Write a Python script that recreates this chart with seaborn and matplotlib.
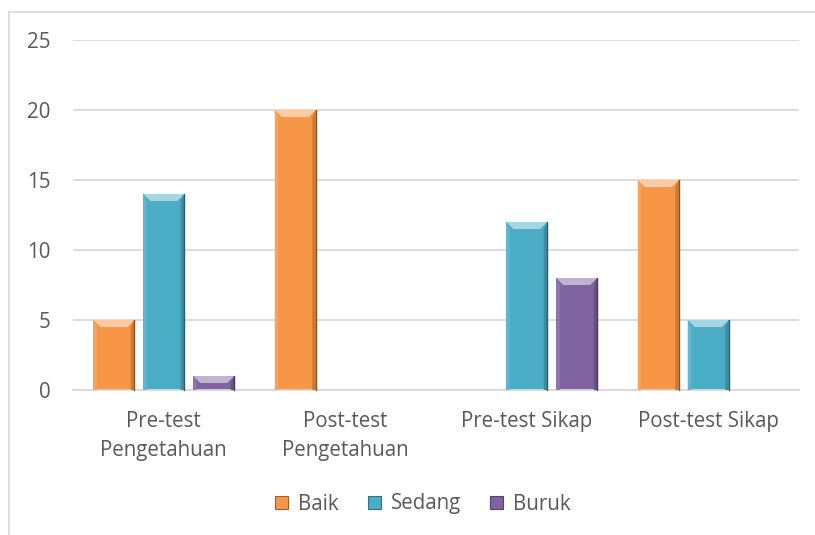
import matplotlib
matplotlib.use("Agg")
import matplotlib.pyplot as plt
import seaborn as sns
import pandas as pd
import numpy as np
from matplotlib.patches import Polygon, Patch
from matplotlib.lines import Line2D
from matplotlib.transforms import IdentityTransform
import matplotlib.colors as mcolors

categories = ["Pre-test\nPengetahuan", "Post-test\nPengetahuan", "Pre-test Sikap", "Post-test Sikap"]
series = ["Baik", "Sedang", "Buruk"]
baik = [5, 20, 0, 15]
sedang = [14, 0, 12, 5]
buruk = [1, 0, 8, 0]
yticks = [0, 5, 10, 15, 20, 25]

colors = {"Baik": "#F79646", "Sedang": "#4BACC6", "Buruk": "#8064A2"}
text_color = "#595959"
grid_color = "#D9D9D9"

rows = []
for s, vals in zip(series, [baik, sedang, buruk]):
    for c, v in zip(categories, vals):
        rows.append({"cat": c, "series": s, "value": v})
df = pd.DataFrame(rows)

sns.set_theme(style="white")
plt.rcParams["font.family"] = ["Open Sans", "DejaVu Sans"]

fig = plt.figure(figsize=(8.15, 5.35), dpi=100)
ax = fig.add_axes([73/815, 1-390/535, (799-73)/815, (390-40)/535])

sns.barplot(data=df, x="cat", y="value", hue="series", order=categories,
            hue_order=series, palette=colors, width=0.826, gap=0.18,
            saturation=1, ax=ax, legend=False, edgecolor="none")

ax.set_ylim(0, 25)
ax.set_xlim(-0.5, 3.5)
ax.set_yticks(yticks)
ax.set_yticklabels([str(t) for t in yticks])
ax.set_xlabel("")
ax.set_ylabel("")
ax.yaxis.grid(True, color=grid_color, linewidth=1.3)
ax.set_axisbelow(True)
for side in ["top", "right", "left"]:
    ax.spines[side].set_visible(False)
ax.spines["bottom"].set_color(grid_color)
ax.spines["bottom"].set_linewidth(1.3)
ax.tick_params(axis="both", length=0, labelsize=14.8, colors=text_color)
ax.tick_params(axis="y", pad=16)
ax.tick_params(axis="x", pad=15)
for lbl in ax.get_xticklabels():
    lbl.set_linespacing(1.5)


def shade(col, f):
    rgb = np.array(mcolors.to_rgb(col))
    if f > 0:
        return tuple(rgb + (1 - rgb) * f)
    return tuple(rgb * (1 + f))


def bevel(x0, y0, x1, y1, col, b=7, z=3):
    top = Polygon([(x0, y1), (x1, y1), (x1 - b, y1 - b), (x0 + b, y1 - b)],
                  closed=True, transform=IdentityTransform(),
                  facecolor=shade(col, 0.5), edgecolor="none", zorder=z)
    left = Polygon([(x0, y0), (x0, y1), (x0 + b * 0.5, y1 - b), (x0 + b * 0.5, y0)],
                   closed=True, transform=IdentityTransform(),
                   facecolor=shade(col, 0.12), edgecolor="none", zorder=z)
    right = Polygon([(x1, y0), (x1, y1), (x1 - b * 0.5, y1 - b), (x1 - b * 0.5, y0)],
                    closed=True, transform=IdentityTransform(),
                    facecolor=shade(col, -0.18), edgecolor="none", zorder=z)
    edge = Line2D([x1, x1], [y0, y1], transform=IdentityTransform(),
                  color=shade(col, -0.45), linewidth=1.0, zorder=z)
    for a in (top, left, right):
        fig.add_artist(a)
    fig.add_artist(edge)


renderer = fig.canvas.get_renderer()
for p in ax.patches:
    h = p.get_height()
    if h <= 0:
        continue
    col = p.get_facecolor()
    bb = p.get_window_extent(renderer=renderer)
    bevel(bb.x0, bb.y0, bb.x1, bb.y1, col)

# legend
handles = [Patch(facecolor=colors[s], edgecolor=shade(colors[s], -0.35), linewidth=0.8) for s in series]
leg = fig.legend(handles, series, loc="center", bbox_to_anchor=(423/815, 1-504/535),
                 ncol=3, frameon=False, fontsize=14.8, handlelength=0.62, handleheight=0.62,
                 handletextpad=0.5, columnspacing=1.4, labelcolor=text_color)

# chart area border (top and left visible)
fig.add_artist(Line2D([9/815, 1], [1-12/535, 1-12/535], transform=fig.transFigure,
                      color=grid_color, linewidth=1.2))
fig.add_artist(Line2D([9/815, 9/815], [0, 1-12/535], transform=fig.transFigure,
                      color=grid_color, linewidth=1.2))

fig.savefig("out.png", dpi=100)
